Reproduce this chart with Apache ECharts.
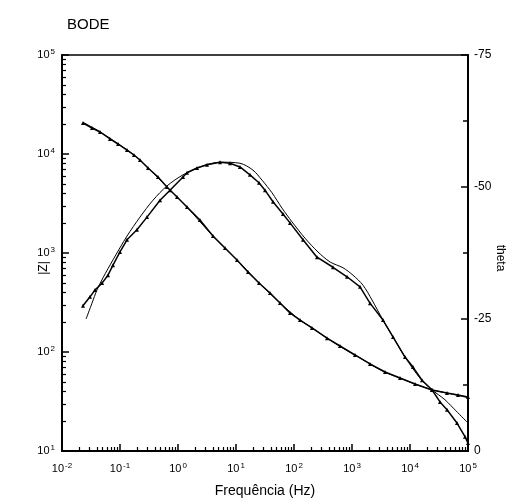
<!DOCTYPE html>
<html><head><meta charset="utf-8">
<script src="https://cdn.jsdelivr.net/npm/echarts@6/dist/echarts.min.js"></script>
<style>html,body{margin:0;padding:0;background:#fff}#c{width:522px;height:503px}</style>
</head><body><div id="c"></div>
<script>
// |Z| measured data
const zFreq = [0.023,0.0329,0.0452,0.0673,0.0925,0.132,0.174,0.221,0.304,0.452,0.645,0.962,1.43,2.39,4.01,6.46,10.4,16.1,24.9,38.6,57.4,85.3,127,204,371,621,1127,2042,3707,6730,12190,23930,43450,67300,100000];
const zMag  = [20560,18320,16680,14180,12620,10970,9770,8690,7220,5860,4640,3680,2915,2155,1485,1125,850,643,498,394,313,248,210,175,138,115,93.3,75.7,62.8,54.6,47.5,41.3,38.5,36.8,35.1];
// theta measured data
const thFreq = [0.023,0.0304,0.0371,0.049,0.0621,0.0757,0.1,0.132,0.196,0.292,0.49,0.728,1.22,1.43,2.13,3.16,5.3,7.88,11.7,17.4,24.9,31.6,43.4,64.6,85.3,143,249,470,820,1374,2042,3420,5090,8200,11270,16100,23930,32890,43450,64560,88700,100000];
const thVal  = [-27.5,-29.2,-30.5,-31.8,-33.3,-35.2,-37.7,-40.0,-41.9,-44.3,-47.5,-49.4,-51.9,-52.7,-53.6,-54.2,-54.7,-54.5,-53.8,-52.3,-50.8,-49.4,-47.2,-44.9,-43.2,-40.0,-36.7,-34.8,-33.0,-31.1,-28.0,-24.8,-21.6,-17.8,-15.9,-13.4,-11.6,-9.3,-7.8,-5.3,-2.7,-1.5];
// fitted |Z|
const fitZFreq = [0.023,0.045,0.092,0.174,0.304,0.645,1.43,4.01,10.4,24.9,57.4,127,204,371,621,1127,2042,3707,6730,12190,23930,43450,67300,100000];
const fitZMag  = [20900,16800,12700,9800,7250,4650,2900,1480,850,500,313,210,176,138,114,93,76,62.5,54.5,47.5,41.5,38.5,36.5,34.5];
// fitted theta
const fitThFreq = [0.026,0.0329,0.0401,0.0509,0.0757,0.132,0.221,0.371,0.645,1.22,2.39,5.3,11.7,19.6,28.1,41.8,62.1,92.4,155,259,418,700,1040,1549,2213,3420,5090,8200,14860,23930,40130,62130,100000];
const fitThVal  = [-25.0,-28.0,-30.5,-32.8,-36.2,-40.7,-44.3,-47.5,-50.2,-52.3,-53.8,-54.7,-54.5,-53.2,-51.3,-48.9,-46.0,-43.4,-40.3,-37.7,-35.8,-34.7,-33.3,-31.4,-28.6,-24.8,-21.6,-17.8,-13.8,-11.6,-9.7,-7.6,-5.3];
// axes tick labels
const xExps = [-2,-1,0,1,2,3,4,5];
const yExps = [1,2,3,4,5];
const thetaTicks = [-75,-50,-25,0];

const xMajor = xExps.map(e => Math.pow(10, e));
const yMajor = yExps.map(e => Math.pow(10, e));
const FONT = '"Liberation Sans", Arial, sans-serif';
const rich = {b:{fontSize:11,fontFamily:FONT,color:'#000'}, s:{fontSize:8,fontFamily:FONT,color:'#000',padding:[0,0,6,1]}};
const fmt = v => '{b|10}{s|' + Math.round(Math.log10(v)) + '}';
const pair = (a,b) => a.map((x,i)=>[x,b[i]]);
const BLK = {color:'#000', width:1.5};

const chart = echarts.init(document.getElementById('c'));
chart.setOption({
  animation:false,
  backgroundColor:'#fff',
  title:{text:'BODE', left:62, top:12, textStyle:{fontSize:15,fontWeight:'normal',fontFamily:FONT,color:'#000'}},
  grid:{left:62, top:55, right:54, bottom:52, show:true, borderColor:'#000', borderWidth:1.5, backgroundColor:'transparent'},
  xAxis:[
    {type:'log', min:xMajor[0], max:xMajor[xMajor.length-1], interval:1, position:'bottom',
     name:'Frequência (Hz)', nameLocation:'middle', nameGap:33, nameMoveOverlap:false, nameTextStyle:{fontSize:14,fontFamily:FONT,color:'#000'},
     axisLine:{lineStyle:{color:'#000',width:2}},
     axisTick:{show:true,inside:true,length:7,lineStyle:BLK},
     minorTick:{show:true,splitNumber:9,length:4,lineStyle:{color:'#000',width:1.2}},
     axisLabel:{interval:0,customValues:xMajor,formatter:fmt,rich:rich,margin:11},
     splitLine:{show:false}, minorSplitLine:{show:false}}
  ],
  yAxis:[
    {type:'log', min:yMajor[0], max:yMajor[yMajor.length-1], interval:1, position:'left',
     name:'|Z|', nameLocation:'middle', nameGap:12, nameRotate:90, nameMoveOverlap:false,
     nameTextStyle:{fontSize:12,fontFamily:FONT,color:'#000',padding:[0,30,0,0]},
     axisLine:{lineStyle:{color:'#000',width:2}},
     axisTick:{show:true,inside:true,length:7,lineStyle:BLK},
     minorTick:{show:true,splitNumber:9,length:4,lineStyle:{color:'#000',width:1.2}},
     axisLabel:{interval:0,customValues:yMajor,formatter:fmt,rich:rich,margin:7},
     splitLine:{show:false}, minorSplitLine:{show:false}},
    {type:'value', min:thetaTicks[0], max:thetaTicks[thetaTicks.length-1], interval:25, inverse:true, position:'right',
     name:'theta', nameLocation:'middle', nameGap:26, nameRotate:-90, nameMoveOverlap:false,
     nameTextStyle:{fontSize:12,fontFamily:FONT,color:'#000',padding:[0,0,0,10]},
     axisLine:{show:true,lineStyle:{color:'#000',width:2}},
     axisTick:{show:true,inside:true,length:7,lineStyle:BLK},
     minorTick:{show:true,splitNumber:2,length:5,lineStyle:BLK},
     axisLabel:{customValues:thetaTicks,fontSize:12,fontFamily:FONT,color:'#000',margin:6},
     splitLine:{show:false}}
  ],
  series:[
    {type:'line', name:'|Z| data', xAxisIndex:0, yAxisIndex:0, data:pair(zFreq,zMag),
     symbol:'triangle', symbolSize:4, itemStyle:{color:'#000'}, lineStyle:{color:'#000',width:1.5}},
    {type:'line', name:'|Z| fit', xAxisIndex:0, yAxisIndex:0, data:pair(fitZFreq,fitZMag), smooth:0.3,
     showSymbol:false, symbol:'none', lineStyle:{color:'#000',width:1}},
    {type:'line', name:'theta data', xAxisIndex:0, yAxisIndex:1, data:pair(thFreq,thVal),
     symbol:'triangle', symbolSize:4, itemStyle:{color:'#000'}, lineStyle:{color:'#000',width:1.5}},
    {type:'line', name:'theta fit', xAxisIndex:0, yAxisIndex:1, data:pair(fitThFreq,fitThVal), smooth:0.3,
     showSymbol:false, symbol:'none', lineStyle:{color:'#000',width:1}}
  ]
});
</script></body></html>
